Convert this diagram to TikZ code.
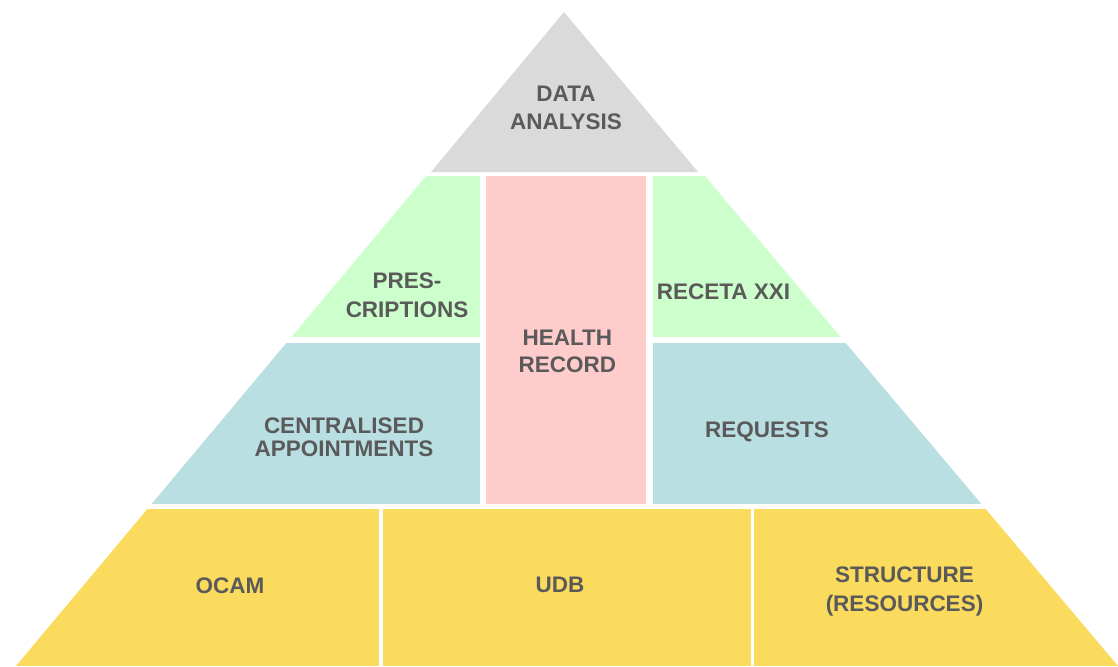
\documentclass[tikz,border=0pt]{standalone}
\usepackage{fontspec}
\setmainfont{Liberation Sans}
\definecolor{cgray}{HTML}{DADADA}
\definecolor{cgreen}{HTML}{CCFFCC}
\definecolor{cpink}{HTML}{FFCCCC}
\definecolor{cblue}{HTML}{BADFE2}
\definecolor{cyellow}{HTML}{FADB5E}
\definecolor{ctext}{HTML}{5A5A5A}
\tikzset{
  lbl/.style={text=ctext, font=\fontsize{22.5}{27}\selectfont\bfseries, align=center, inner sep=0pt},
}
\begin{document}
\begin{tikzpicture}[x=1pt, y=-1pt]
\useasboundingbox (0,0) rectangle (1118,666);
% top tier
\fill[cgray] (564,12) -- (431,172) -- (698,172) -- cycle;
\begin{scope}
  \clip (565,10) -- (16,666) -- (1118,666) -- cycle;
  % second tier
  \fill[cgreen] (0,176) rectangle (480,337);
  \fill[cgreen] (653,176) rectangle (1118,337);
  % health record column
  \fill[cpink] (486,176) rectangle (646,504);
  % third tier
  \fill[cblue] (0,342.5) rectangle (480,504);
  \fill[cblue] (653,342.5) rectangle (1118,504);
  % base tier
  \fill[cyellow] (0,509) rectangle (379,666);
  \fill[cyellow] (383,509) rectangle (751,666);
  \fill[cyellow] (754,509) rectangle (1118,666);
\end{scope}
% labels
\node[lbl, font=\fontsize{22.5}{28}\selectfont\bfseries] (da) at (566,108) {DATA\\ANALYSIS};
\node[lbl, font=\fontsize{22.5}{29}\selectfont\bfseries] (pr) at (407,295) {PRES-\\CRIPTIONS};
\node[lbl] (rx) at (723.5,292) {RECETA XXI};
\node[lbl] (hr) at (567.3,351.7) {HEALTH\\RECORD};
\node[lbl, font=\fontsize{22.5}{23}\selectfont\bfseries] (ca) at (344,437) {CENTRALISED\\APPOINTMENTS};
\node[lbl] (rq) at (767,432) {REQUESTS};
\node[lbl] (oc) at (230,585.5) {OCAM};
\node[lbl] (ud) at (560,585) {UDB};
\node[lbl, font=\fontsize{22.5}{29}\selectfont\bfseries] (st) at (904.5,591) {STRUCTURE\\(RESOURCES)};
\end{tikzpicture}
\end{document}
